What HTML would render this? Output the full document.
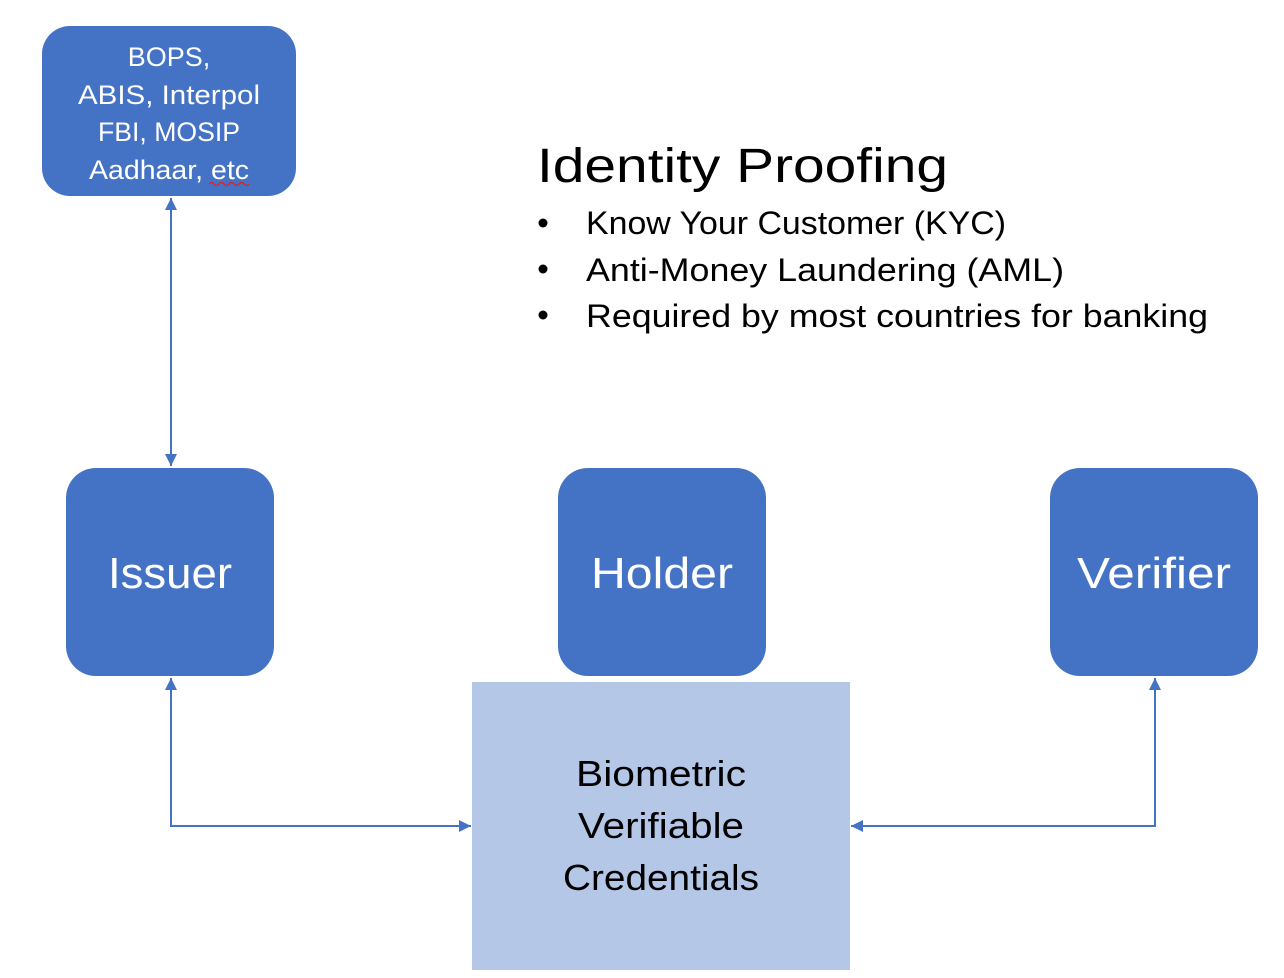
<!DOCTYPE html>
<html><head><meta charset="utf-8"><style>
html,body{margin:0;padding:0;background:#fff;}
svg{display:block;}
text{font-family:"Liberation Sans",sans-serif;}
</style></head><body>
<svg width="1284" height="978" viewBox="0 0 1284 978" xmlns="http://www.w3.org/2000/svg">
<defs>
<marker id="a" viewBox="0 0 10 10" refX="10" refY="5" markerWidth="6" markerHeight="6" orient="auto-start-reverse" markerUnits="strokeWidth">
<path d="M0,0 L10,5 L0,10 z" fill="#4472C4"/></marker>
</defs>
<rect x="42" y="26" width="254" height="170" rx="28" fill="#4472C4"/>
<g fill="#fff" font-size="27" text-anchor="middle">
<text x="169" y="66">BOPS,</text>
<text x="169" y="104" textLength="182" lengthAdjust="spacingAndGlyphs">ABIS,  Interpol</text>
<text x="169" y="141" textLength="142" lengthAdjust="spacingAndGlyphs">FBI, MOSIP</text>
<text x="169" y="179" textLength="160" lengthAdjust="spacingAndGlyphs">Aadhaar, etc</text>
</g>
<path d="M209,184 q2.5,-3 5,0 t5,0 t5,0 t5,0 t5,0 t5,0 t5,0 t5,0" stroke="#e02020" stroke-width="1.3" fill="none"/>

<rect x="66" y="468" width="208" height="208" rx="30" fill="#4472C4"/>
<rect x="558" y="468" width="208" height="208" rx="30" fill="#4472C4"/>
<rect x="1050" y="468" width="208" height="208" rx="30" fill="#4472C4"/>
<g fill="#fff" font-size="44" text-anchor="middle">
<text x="170" y="588" textLength="124" lengthAdjust="spacingAndGlyphs">Issuer</text>
<text x="662" y="588" textLength="142" lengthAdjust="spacingAndGlyphs">Holder</text>
<text x="1154" y="588" textLength="154" lengthAdjust="spacingAndGlyphs">Verifier</text>
</g>

<rect x="472" y="682" width="378" height="288" fill="#B4C7E7"/>
<g fill="#000" font-size="36" text-anchor="middle">
<text x="661" y="786" textLength="170" lengthAdjust="spacingAndGlyphs">Biometric</text>
<text x="661" y="838" textLength="166" lengthAdjust="spacingAndGlyphs">Verifiable</text>
<text x="661" y="890" textLength="196" lengthAdjust="spacingAndGlyphs">Credentials</text>
</g>

<g stroke="#4472C4" stroke-width="2" fill="none">
<line x1="171" y1="198" x2="171" y2="466" marker-start="url(#a)" marker-end="url(#a)"/>
<polyline points="171,678 171,826 471,826" marker-start="url(#a)" marker-end="url(#a)"/>
<polyline points="1155,678 1155,826 851,826" marker-start="url(#a)" marker-end="url(#a)"/>
</g>

<text x="537" y="182" font-size="48" textLength="411" lengthAdjust="spacingAndGlyphs">Identity Proofing</text>
<g font-size="32">
<circle cx="543" cy="223" r="4.5" fill="#000"/>
<circle cx="543" cy="269" r="4.5" fill="#000"/>
<circle cx="543" cy="315" r="4.5" fill="#000"/>
<text x="586" y="234" textLength="420" lengthAdjust="spacingAndGlyphs">Know Your Customer (KYC)</text>
<text x="586" y="281" textLength="478" lengthAdjust="spacingAndGlyphs">Anti-Money Laundering (AML)</text>
<text x="586" y="327" textLength="622" lengthAdjust="spacingAndGlyphs">Required by most countries for banking</text>
</g>
</svg>
</body></html>
